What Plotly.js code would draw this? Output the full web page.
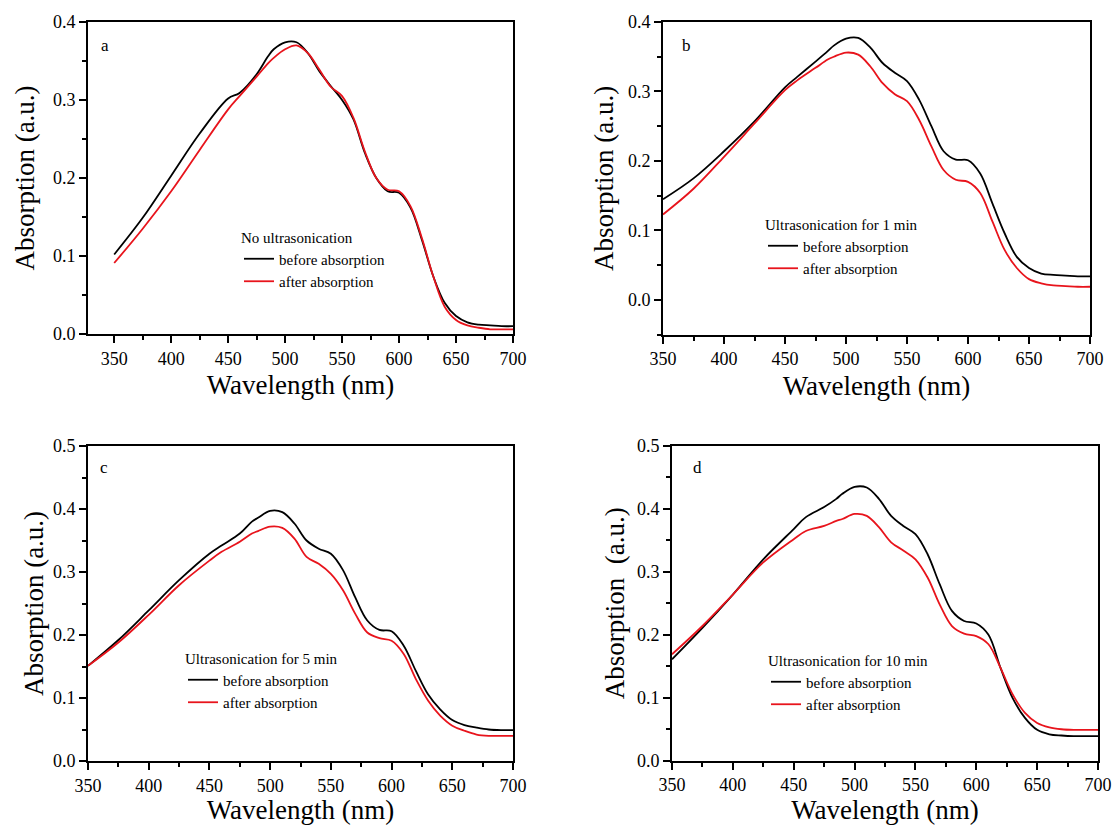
<!DOCTYPE html>
<html>
<head>
<meta charset="utf-8">
<script src="https://cdn.plot.ly/plotly-3.0.1.min.js"></script>
<style>
html,body{margin:0;padding:0;background:#fff;}
#chart{width:1118px;height:825px;}
</style>
</head>
<body>
<div id="chart"></div>
<script>
// Wavelength (nm)
const wavelength = [350,375,400,425,450,460,475,485,490,500,510,520,530,540,550,560,570,580,590,600,610,620,630,640,650,660,670,680,690,700];

// Panel a: No ultrasonication
const aBefore = [0.102,0.149,0.203,0.257,0.302,0.309,0.333,0.356,0.365,0.374,0.374,0.360,0.337,0.318,0.300,0.275,0.232,0.200,0.183,0.181,0.162,0.121,0.074,0.040,0.023,0.015,0.012,0.011,0.010,0.010];
const aAfter  = [0.091,0.135,0.183,0.236,0.288,0.305,0.330,0.347,0.354,0.365,0.370,0.360,0.339,0.317,0.305,0.277,0.234,0.200,0.185,0.183,0.164,0.123,0.074,0.035,0.018,0.011,0.008,0.006,0.006,0.006];

// Panel b: Ultrasonication for 1 min
const bBefore = [0.145,0.175,0.214,0.257,0.306,0.321,0.343,0.358,0.366,0.376,0.377,0.363,0.341,0.327,0.315,0.288,0.250,0.214,0.202,0.201,0.182,0.139,0.096,0.062,0.046,0.038,0.036,0.035,0.034,0.034];
const bAfter  = [0.123,0.160,0.206,0.254,0.302,0.316,0.334,0.346,0.350,0.356,0.353,0.336,0.312,0.296,0.286,0.259,0.221,0.187,0.173,0.170,0.154,0.113,0.072,0.046,0.030,0.024,0.021,0.020,0.019,0.019];

// Panel c: Ultrasonication for 5 min
const cBefore = [0.151,0.192,0.239,0.287,0.329,0.342,0.361,0.380,0.386,0.397,0.395,0.377,0.350,0.337,0.329,0.303,0.260,0.223,0.208,0.206,0.183,0.143,0.106,0.082,0.065,0.057,0.053,0.050,0.049,0.049];
const cAfter  = [0.151,0.188,0.232,0.279,0.318,0.332,0.348,0.361,0.365,0.372,0.370,0.353,0.324,0.313,0.297,0.271,0.234,0.204,0.195,0.191,0.170,0.130,0.096,0.072,0.056,0.048,0.042,0.040,0.040,0.040];

// Panel d: Ultrasonication for 10 min
const dBefore = [0.161,0.211,0.264,0.320,0.368,0.387,0.403,0.416,0.424,0.435,0.434,0.416,0.389,0.373,0.360,0.328,0.280,0.238,0.222,0.218,0.200,0.147,0.099,0.068,0.049,0.042,0.040,0.039,0.039,0.039];
const dAfter  = [0.169,0.214,0.264,0.315,0.352,0.365,0.373,0.381,0.384,0.392,0.389,0.371,0.347,0.334,0.320,0.291,0.248,0.214,0.202,0.198,0.185,0.147,0.105,0.076,0.060,0.053,0.050,0.049,0.049,0.049];

const seriesNames = ['before absorption','after absorption'];
const panelTitles = ['No ultrasonication','Ultrasonication for 1 min','Ultrasonication for 5 min','Ultrasonication for 10 min'];
const panelLetters = ['a','b','c','d'];
const xTitle = 'Wavelength (nm)';
const yTitles = ['Absorption (a.u.)','Absorption (a.u.)','Absorption (a.u.)','Absorption&nbsp;&nbsp;(a.u.)'];

const FONT = '"Liberation Serif", "Times New Roman", serif';
const BLACK = '#000000';
const RED = '#e8141c';

const panels = [
  {before:aBefore, after:aAfter, xr:[327,700], yr:[0,0.4],   xd:[88/1118,513/1118],  yd:[1-334/825,1-22/825],  ys:10, xs:8,  lg:[239,223], lt:[105,45]},
  {before:bBefore, after:bAfter, xr:[350,700], yr:[-0.05,0.4], xd:[663/1118,1090/1118], yd:[1-334.7/825,1-22/825], ys:6, xs:8, lg:[763,210], lt:[686,45]},
  {before:cBefore, after:cAfter, xr:[350,700], yr:[0,0.5],   xd:[88/1118,513/1118],  yd:[1-761/825,1-446/825], ys:1, xs:8, lg:[183,644], lt:[104,467]},
  {before:dBefore, after:dAfter, xr:[350,700], yr:[0,0.5],   xd:[672/1118,1098/1118], yd:[1-760.7/825,1-446/825], ys:4, xs:8, lg:[766,646], lt:[697,467]}
];

const data = [];
const layout = {
  width:1118, height:825,
  margin:{l:0,r:0,t:0,b:0},
  paper_bgcolor:'#fff', plot_bgcolor:'#fff',
  showlegend:true,
  font:{family:FONT, color:'#000'},
  annotations:[]
};

panels.forEach((p,i)=>{
  const n = i===0 ? '' : String(i+1);
  const legendKey = 'legend' + n;
  [[p.before, BLACK, seriesNames[0]],[p.after, RED, seriesNames[1]]].forEach(([ys,col,name])=>{
    data.push({
      x: wavelength, y: ys, type:'scatter', mode:'lines', name:name,
      line:{color:col, width:1.8, shape:'spline', smoothing:1.0},
      xaxis:'x'+n, yaxis:'y'+n, legend:legendKey, hoverinfo:'skip'
    });
  });
  layout['xaxis'+n] = {
    domain:p.xd, range:p.xr, anchor:'y'+n,
    tick0:350, dtick:50, ticks:'outside', ticklen:7, tickwidth:2, tickcolor:'#000',
    minor:{tick0:350, dtick:25, ticks:'outside', ticklen:4, tickwidth:2, tickcolor:'#000', showgrid:false},
    showline:true, linewidth:2, linecolor:'#000', mirror:true,
    showgrid:false, zeroline:false,
    tickfont:{family:FONT, size:18, color:'#000'},
    title:{text:xTitle, font:{family:FONT, size:27, color:'#000'}, standoff:p.xs}
  };
  layout['yaxis'+n] = {
    domain:p.yd, range:p.yr, anchor:'x'+n,
    tick0:0, dtick:0.1, tickformat:'.1f', ticks:'outside', ticklen:7, tickwidth:2, tickcolor:'#000',
    minor:{tick0:0, dtick:0.05, ticks:'outside', ticklen:4, tickwidth:2, tickcolor:'#000', showgrid:false},
    showline:true, linewidth:2, linecolor:'#000', mirror:true,
    showgrid:false, zeroline:false,
    tickfont:{family:FONT, size:18, color:'#000'},
    title:{text:yTitles[i], font:{family:FONT, size:27, color:'#000'}, standoff:p.ys}
  };
  layout[legendKey] = {
    x:p.lg[0]/1118, y:1-p.lg[1]/825, xanchor:'left', yanchor:'top',
    bgcolor:'rgba(0,0,0,0)', borderwidth:0,
    font:{family:FONT, size:15, color:'#000'},
    title:{text:panelTitles[i], side:'top', font:{family:FONT, size:15, color:'#000'}},
    tracegroupgap:0, itemwidth:30
  };
  layout.annotations.push({
    text:panelLetters[i], xref:'paper', yref:'paper',
    x:p.lt[0]/1118, y:1-p.lt[1]/825, xanchor:'center', yanchor:'middle',
    showarrow:false, font:{family:FONT, size:17, color:'#000'}
  });
});

Plotly.newPlot('chart', data, layout, {displayModeBar:false, staticPlot:true});
</script>
</body>
</html>
